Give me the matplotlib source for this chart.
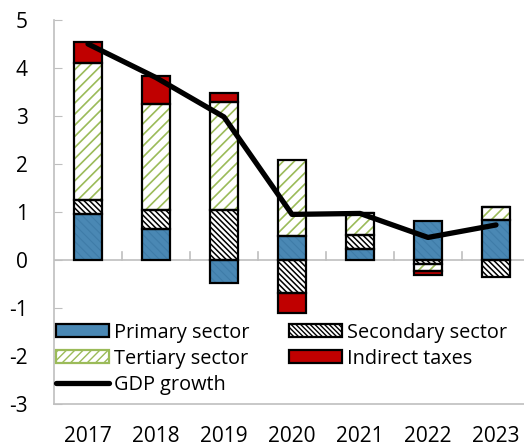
import numpy as np
import matplotlib
matplotlib.use("Agg")
import matplotlib.pyplot as plt
from matplotlib.patches import Patch
from matplotlib.lines import Line2D

plt.rcParams['font.family'] = ['Open Sans', 'DejaVu Sans']
plt.rcParams['axes.unicode_minus'] = False

years = ['2017', '2018', '2019', '2020', '2021', '2022', '2023']
primary = [0.96, 0.65, -0.47, 0.50, 0.22, 0.82, 0.83]
secondary = [0.28, 0.40, 1.05, -0.68, 0.31, -0.08, -0.36]
tertiary = [2.86, 2.21, 2.25, 1.58, 0.44, -0.14, 0.27]
indirect = [0.45, 0.58, 0.17, -0.42, 0.0, -0.09, 0.0]
gdp = [4.5, 3.8, 2.98, 0.95, 0.97, 0.47, 0.73]

blue = '#4a88b4'
green = '#9bbb59'
red = '#c00000'

fig = plt.figure(figsize=(5.24, 4.48), dpi=100)
ax = fig.add_axes([54 / 524, 1 - 404 / 448, 470 / 524, 384 / 448])

x = np.arange(len(years))
w = 0.41
pos_base = np.zeros(len(years))
neg_base = np.zeros(len(years))

# (values, fill, hatch colour, hatch, hatch width)
series = [
    (primary, blue, '#3f7ca8', '\\' * 4, 0.8),
    (secondary, 'white', 'black', '\\' * 6, 1.1),
    (tertiary, 'white', green, '/' * 3, 1.2),
    (indirect, red, red, None, 1.0),
]

for vals, fc, hc, hatch, hlw in series:
    vals = np.array(vals)
    base = np.where(vals >= 0, pos_base, neg_base)
    ax.bar(x, vals, w, bottom=base, color=fc, edgecolor='none', zorder=2)
    if hatch:
        with plt.rc_context({'hatch.linewidth': hlw}):
            ax.bar(x, vals, w, bottom=base, color='none', edgecolor=hc,
                   hatch=hatch, linewidth=0, zorder=2.5)
    ax.bar(x, vals, w, bottom=base, color='none', edgecolor='black',
           linewidth=1.6, zorder=3)
    pos_base = pos_base + np.where(vals >= 0, vals, 0)
    neg_base = neg_base + np.where(vals < 0, vals, 0)

ax.plot(x, gdp, color='black', linewidth=3.8, zorder=4, solid_capstyle='round')

ax.axhline(0, color='#bfbfbf', linewidth=1.2, zorder=1)
for b in np.arange(0.5, 6, 1):
    ax.plot([b, b], [0, 0.16], color='#bfbfbf', linewidth=1.2, zorder=1)

ax.set_xlim(-0.5, -0.5 + 470 / 68)
ax.set_ylim(-3, 5)
ax.set_yticks(range(-3, 6))
ax.set_xticks(x)
ax.set_xticklabels(years)
ax.tick_params(axis='y', direction='in', length=6, color='#bfbfbf',
               pad=19, labelsize=15)
ax.tick_params(axis='x', length=0, pad=16, labelsize=15)

for s in ['top', 'right']:
    ax.spines[s].set_visible(False)
for s in ['left', 'bottom']:
    ax.spines[s].set_color('#bfbfbf')
    ax.spines[s].set_linewidth(1.2)

with plt.rc_context({'hatch.linewidth': 1.0}):
    h_prim = Patch(facecolor=blue, edgecolor='black', linewidth=1.6)
    h_sec = Patch(facecolor='white', edgecolor='black', hatch='\\' * 7,
                  linewidth=1.6)
    h_ter = Patch(facecolor='white', edgecolor=green, hatch='/' * 4,
                  linewidth=1.6)
    h_ind = Patch(facecolor=red, edgecolor='black', linewidth=1.6)
h_gdp = Line2D([], [], color='black', linewidth=3.8, solid_capstyle='round')

leg = ax.legend([h_prim, h_ter, h_gdp, h_sec, h_ind],
                ['Primary sector', 'Tertiary sector', 'GDP growth',
                 'Secondary sector', 'Indirect taxes'],
                ncol=2, loc='lower left', bbox_to_anchor=(-0.012, 0.004),
                frameon=False, fontsize=14.3, handlelength=2.65,
                handleheight=0.6, handletextpad=0.25, columnspacing=2.0,
                labelspacing=0.3, borderaxespad=0.2, borderpad=0.2)

fig.savefig('out.png', dpi=100)
